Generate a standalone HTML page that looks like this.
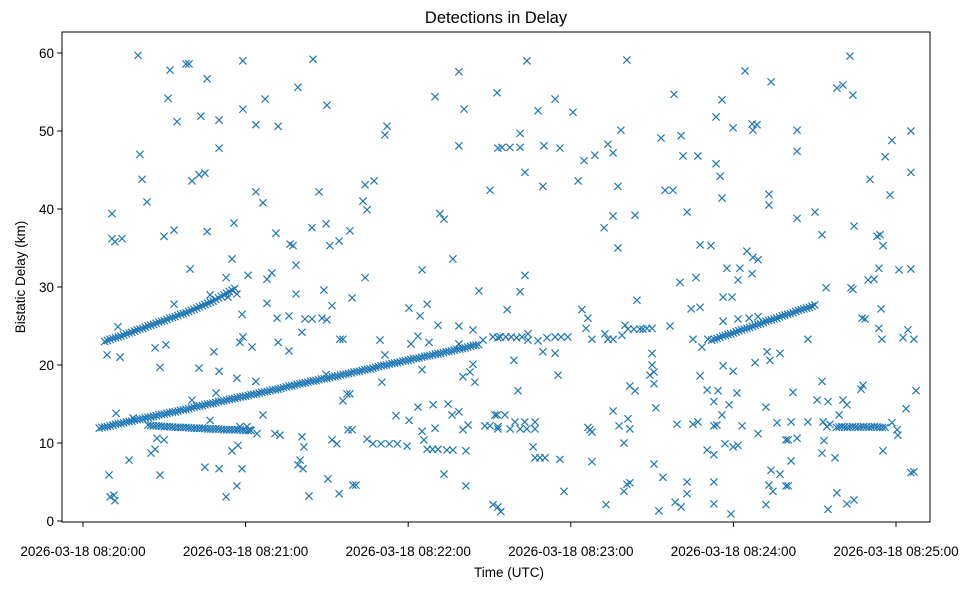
<!DOCTYPE html>
<html><head><meta charset="utf-8"><style>
body{margin:0;background:#fff;font-family:"Liberation Sans",sans-serif}
svg text{font-family:"Liberation Sans",sans-serif;fill:#000}
</style></head><body>
<svg id="chart" width="978" height="590" viewBox="0 0 978 590" xmlns="http://www.w3.org/2000/svg">
<rect x="0" y="0" width="978" height="590" fill="#fff"/>
<text x="496" y="23" font-size="16.5" text-anchor="middle">Detections in Delay</text>
<text x="509" y="577" font-size="13.5" text-anchor="middle">Time (UTC)</text>
<text x="0" y="0" font-size="13.5" text-anchor="middle" transform="translate(25,277) rotate(-90)">Bistatic Delay (km)</text>
<g id="marks"></g>
<g id="axes"></g>
</svg>
<script>
const xTickSeconds = [0, 60, 120, 180, 240, 300];
const xTickLabels = ["2026-03-18 08:20:00","2026-03-18 08:21:00","2026-03-18 08:22:00","2026-03-18 08:23:00","2026-03-18 08:24:00","2026-03-18 08:25:00"];
const yTicks = [0, 10, 20, 30, 40, 50, 60];
const trackA = [[6,11.9],[7,12.0],[8,12.05],[9,12.1],[10,12.2],[11,12.3],[12,12.4],[13,12.45],[14,12.5],[15,12.6],[16,12.7],[17,12.75],[18,12.8],[19,12.9],[20,13.0],[21,13.05],[22,13.1],[23,13.2],[24,13.3],[25,13.35],[26,13.4],[27,13.5],[28,13.6],[29,13.65],[30,13.7],[31,13.8],[32,13.9],[33,13.95],[34,14.0],[35,14.1],[36,14.2],[37,14.25],[38,14.3],[39,14.4],[40,14.5],[41,14.6],[42,14.7],[43,14.75],[44,14.8],[45,14.9],[46,15.0],[47,15.05],[48,15.1],[49,15.2],[50,15.3],[51,15.35],[52,15.4],[53,15.5],[54,15.6],[55,15.65],[56,15.7],[57,15.8],[58,15.9],[59,15.95],[60,16.0],[61,16.1],[62,16.2],[63,16.25],[64,16.3],[65,16.4],[66,16.5],[67,16.55],[68,16.6],[69,16.7],[70,16.8],[71,16.85],[72,16.9],[73,17.0],[74,17.1],[75,17.2],[76,17.3],[77,17.35],[78,17.4],[79,17.5],[80,17.6],[81,17.65],[82,17.7],[83,17.8],[84,17.9],[85,17.95],[86,18.0],[87,18.1],[88,18.2],[89,18.25],[90,18.3],[91,18.4],[92,18.5],[93,18.55],[94,18.6],[95,18.7],[96,18.8],[97,18.85],[98,18.9],[99,19.0],[100,19.1],[101,19.15],[102,19.2],[103,19.3],[104,19.4],[105,19.45],[106,19.5],[107,19.6],[108,19.7],[109,19.8],[110,19.9],[111,19.95],[112,20.0],[113,20.1],[114,20.2],[115,20.25],[116,20.3],[117,20.4],[118,20.5],[119,20.55],[120,20.6],[121,20.7],[122,20.8],[123,20.85],[124,20.9],[125,21.0],[126,21.1],[127,21.15],[128,21.2],[129,21.3],[130,21.4],[131,21.45],[132,21.5],[133,21.6],[134,21.7],[135,21.75],[136,21.8],[137,21.9],[138,22.0],[139,22.05],[140,22.1],[141,22.2],[142,22.3],[143,22.4],[144,22.5],[145,22.55],[146,22.6]];
const trackB = [[8,23.0],[9,23.15],[10,23.3],[11,23.4],[12,23.5],[13,23.6],[14,23.7],[15,23.85],[16,24.0],[17,24.1],[18,24.2],[19,24.35],[20,24.5],[21,24.6],[22,24.7],[23,24.85],[24,25.0],[25,25.1],[26,25.2],[27,25.35],[28,25.5],[29,25.6],[30,25.7],[31,25.85],[32,26.0],[33,26.1],[34,26.2],[35,26.35],[36,26.5],[37,26.6],[38,26.7],[39,26.85],[40,27.0],[41,27.15],[42,27.3],[43,27.45],[44,27.6],[45,27.75],[46,27.9],[47,28.05],[48,28.2],[49,28.4],[50,28.6],[51,28.8],[52,29.0],[53,29.2],[54,29.4],[55,29.6],[56,29.8]];
const trackC = [[24,12.3],[25,12.25],[26,12.2],[27,12.2],[28,12.2],[29,12.15],[30,12.1],[31,12.1],[32,12.1],[33,12.05],[34,12.0],[35,12.0],[36,12.0],[37,12.0],[38,12.0],[39,11.95],[40,11.9],[41,11.9],[42,11.9],[43,11.9],[44,11.9],[45,11.85],[46,11.8],[47,11.8],[48,11.8],[49,11.8],[50,11.8],[51,11.75],[52,11.7],[53,11.7],[54,11.7],[55,11.7],[56,11.7],[57,11.7],[58,11.7],[59,11.65],[60,11.6],[61,11.6],[62,11.6]];
const trackE = [[232,23.2],[233,23.3],[234,23.4],[235,23.55],[236,23.7],[237,23.8],[238,23.9],[239,24.0],[240,24.1],[241,24.25],[242,24.4],[243,24.5],[244,24.6],[245,24.7],[246,24.8],[247,24.95],[248,25.1],[249,25.2],[250,25.3],[251,25.45],[252,25.6],[253,25.7],[254,25.8],[255,25.9],[256,26.0],[257,26.15],[258,26.3],[259,26.4],[260,26.5],[261,26.6],[262,26.7],[263,26.85],[264,27.0],[265,27.1],[266,27.2],[267,27.3],[268,27.4],[269,27.55],[270,27.7]];
const trackD = [[278,12.0],[279,12.05],[280,12.1],[281,12.05],[282,12.0],[283,12.05],[284,12.1],[285,12.05],[286,12.0],[287,12.05],[288,12.1],[289,12.05],[290,12.0],[291,12.05],[292,12.1],[293,12.05],[294,12.0],[295,12.0],[296,12.0]];
const clutter = [
[20.3,59.7],[32.1,57.8],[38.0,58.6],[39.1,58.6],[45.8,56.7],[31.4,54.2],[34.7,51.2],[43.5,51.9],[21.0,47.0],[21.8,43.8],[23.6,40.9],[10.7,39.4],[10.7,36.2],[11.8,35.8],[14.4,36.2],[29.9,36.5],[33.6,37.3],[40.2,43.6],[42.8,44.4],[45.0,44.6],[45.8,37.1],[39.5,32.3],[33.6,27.8],[12.9,24.9],[8.9,21.3],[13.7,21.0],[26.6,22.2],[30.6,22.6],[28.4,19.7],[42.8,19.6],[40.2,15.5],[12.2,13.8],[18.5,13.2],[27.3,10.6],[29.9,10.4],[26.6,9.2],[25.1,8.7],[17.0,7.8],[9.6,5.9],[28.4,5.9],[45.0,6.9],[10.0,3.1],[11.4,3.3],[11.8,2.6],[46.9,12.9],[46.9,29.0],[48.3,21.7],
[59.0,59.0],[84.9,59.2],[79.3,55.6],[67.2,54.1],[59.0,52.8],[90.0,53.3],[50.2,51.4],[63.8,50.8],[72.0,50.6],[50.2,47.8],[63.8,42.2],[66.4,40.8],[87.1,42.2],[55.7,38.2],[71.2,36.9],[84.5,37.6],[89.7,38.1],[98.5,37.2],[76.4,35.5],[77.5,35.3],[91.1,35.3],[94.5,35.9],[55.0,33.6],[78.6,32.8],[52.8,31.2],[60.9,31.5],[67.9,31.0],[69.7,31.8],[53.5,28.7],[56.8,29.1],[67.9,27.9],[78.6,29.1],[88.9,29.6],[91.9,27.6],[99.3,28.6],[58.7,26.5],[71.6,26.0],[76.0,26.3],[81.9,25.9],[84.5,25.9],[88.2,26.0],[90.0,25.8],[80.8,24.2],[94.8,23.3],[95.9,23.3],[57.9,22.9],[59.0,23.6],[62.4,22.3],[72.0,22.9],[76.0,21.8],[50.2,19.2],[56.8,18.3],[63.8,17.9],[89.7,18.8],[49.1,16.4],[97.4,16.3],[95.9,15.4],[66.4,13.6],[57.9,12.1],[60.5,12.1],[61.6,11.7],[64.2,11.2],[70.8,11.2],[72.7,11.0],[80.8,10.8],[81.5,9.5],[91.9,10.4],[93.7,9.9],[97.8,11.7],[55.0,9.0],[57.2,9.7],[50.2,6.7],[58.7,6.7],[79.3,7.2],[80.1,7.8],[81.2,6.7],[56.8,4.5],[52.8,3.1],[83.4,3.2],[90.4,5.4],[94.5,3.5],[99.6,4.6],
[138.7,57.6],[152.8,54.9],[129.9,54.4],[140.6,52.8],[112.2,50.6],[111.4,49.5],[138.7,48.1],[153.1,47.8],[104.1,43.1],[107.4,43.6],[103.3,41.0],[104.8,39.9],[150.2,42.4],[131.7,39.4],[133.2,38.7],[136.5,33.6],[125.1,32.2],[104.1,31.2],[146.1,29.5],[120.3,27.3],[127.0,27.8],[124.4,26.3],[131.0,25.1],[138.7,25.0],[143.9,24.5],[109.6,23.2],[123.6,23.7],[121.0,22.7],[127.7,22.9],[147.6,23.2],[151.3,23.6],[153.1,23.5],[138.7,22.7],[111.4,21.3],[143.9,20.1],[142.8,19.1],[140.2,18.5],[144.6,17.8],[125.1,19.4],[110.3,17.8],[98.5,16.3],[115.5,13.5],[120.3,12.9],[123.6,14.6],[129.2,14.9],[134.7,15.0],[136.2,13.6],[138.7,14.0],[125.1,11.5],[129.9,11.9],[140.2,11.7],[142.1,12.3],[148.3,12.2],[150.2,12.2],[152.8,13.6],[153.1,12.1],[104.8,10.5],[107,9.9],[110,9.9],[113,9.9],[116,9.9],[119.6,9.6],[125.8,10.4],[127,9.2],[129,9.2],[131,9.2],[134.3,9.1],[136.5,9.1],[141.3,9.0],[99.3,11.7],[100.7,4.6],[133.2,6.0],[141.3,4.5],[151.3,2.1],
[163.8,59.0],[200.7,59.1],[174.2,54.1],[167.9,52.6],[180.8,52.4],[161.3,49.7],[198.5,50.1],[154.6,47.9],[157.5,47.9],[161.3,47.9],[170.1,48.1],[176.0,47.8],[193.7,48.3],[195.6,47.2],[188.9,46.9],[184.9,46.2],[163.1,44.7],[169.7,42.9],[182.7,43.6],[197.4,42.9],[195.6,39.1],[203.7,39.2],[192.3,37.6],[197.4,35.0],[163.1,31.5],[161.3,29.4],[156.5,27.1],[204.4,28.3],[184.1,27.1],[186.3,26.0],[185.6,24.7],[154,23.6],[156,23.6],[158,23.6],[160,23.5],[162,23.6],[164.2,24.0],[164.2,23.2],[167.9,23.1],[171.2,23.5],[174.2,23.6],[176.4,23.6],[178.9,23.6],[187.8,23.3],[192.6,24.0],[193.7,23.3],[195.6,23.3],[198.9,23.8],[200,25.1],[201.1,24.6],[203.3,24.6],[205.5,24.6],[206.6,24.6],[169.7,21.7],[174.2,21.5],[159.0,20.6],[175.3,18.7],[160.5,16.7],[201.8,17.3],[203.7,16.7],[152,13.6],[155.7,13.6],[153.1,11.8],[157.6,11.8],[159.4,12.7],[163,12.7],[166.8,12.7],[161.3,11.8],[163.8,11.8],[166.8,11.8],[166.1,9.5],[166.8,8.1],[168.6,8.1],[170.5,8.1],[176.0,7.9],[187.1,11.7],[186.3,12.0],[187.8,11.4],[187.8,7.6],[195.6,14.1],[197.8,12.2],[201.1,13.1],[201.8,11.8],[199.6,10.0],[200.7,4.7],[199.6,3.8],[201.8,4.9],[177.5,3.8],[193.0,2.1],[153.1,1.8],[154.2,1.2],
[244.3,57.7],[253.9,56.3],[218.1,54.7],[235.8,54.0],[233.6,51.8],[239.9,50.4],[246.9,50.9],[248.7,50.8],[247.2,50.1],[213.3,49.1],[220.7,49.4],[221.4,46.8],[226.9,46.8],[233.6,45.8],[235.1,44.2],[214.8,42.4],[217.7,42.4],[235.8,41.4],[253.1,41.9],[253.1,40.5],[222.9,39.6],[227.7,35.4],[231.7,35.3],[245.0,34.6],[247.2,33.8],[249.1,33.5],[237.6,32.4],[242.4,32.4],[241.7,30.9],[246.9,31.7],[220.3,30.6],[226.2,31.2],[236.2,28.7],[239.5,28.7],[224.4,27.2],[227.7,27.4],[236.2,25.6],[241.7,25.9],[245.8,26.0],[249.1,26.2],[208.1,24.7],[210,24.7],[216.6,25.0],[225.1,23.3],[228.4,22.3],[230.6,23.3],[210,21.5],[210,20.0],[209.2,18.7],[210.7,19.1],[210.7,17.6],[236.2,19.9],[239.9,19.2],[227.7,18.6],[248,20.3],[252.4,21.7],[253.5,20.6],[257.2,21.5],[230.3,16.8],[234.3,16.7],[241.3,16.4],[232.8,15.3],[238.4,14.9],[235.8,13.6],[211.4,14.5],[252.0,14.6],[219.2,12.4],[225.1,12.4],[226.9,12.7],[232.8,12.2],[233.9,12.3],[243.2,12.2],[249.1,11.2],[256.1,12.6],[259.4,10.4],[230.3,9.1],[232.8,8.5],[236.9,9.9],[239.9,9.5],[241.7,9.7],[210.7,7.3],[214.0,5.6],[222.9,5.0],[222.9,3.5],[232.8,5.0],[253.9,6.5],[257.2,6.0],[253.1,4.6],[254.6,3.8],[259.4,4.5],[218.5,2.4],[220.7,1.8],[212.5,1.3],[232.8,2.2],[239.1,0.9],[252.0,2.1],
[283.0,59.6],[278.2,55.5],[280.4,55.9],[284.1,54.6],[263.5,50.1],[263.5,47.4],[305.5,50.0],[298.5,48.8],[296.0,46.7],[305.5,44.7],[290.4,43.8],[297.8,41.8],[263.5,38.8],[270.1,39.6],[272.7,36.7],[284.5,37.8],[293.0,36.5],[294.1,36.7],[295.2,35.3],[293.7,32.4],[301.1,32.2],[305.5,32.3],[289.7,30.9],[291.9,31.0],[274.2,29.9],[283.4,29.9],[284.1,29.7],[267.5,23.3],[287.5,26.0],[288.6,25.9],[294.5,27.2],[293.7,24.7],[294.8,23.3],[302.6,23.5],[304.4,24.5],[306.6,23.3],[272.7,17.9],[262.0,16.5],[287.8,17.4],[287.1,16.9],[307.4,16.7],[270.9,15.5],[274.9,15.3],[280.4,15.5],[281.9,14.9],[279.0,13.6],[303.7,14.4],[261.3,12.7],[267.5,12.7],[273.1,12.7],[275.6,12.4],[274.5,12.1],[298.5,12.6],[300.4,11.7],[300.7,11.0],[260.2,10.4],[263.5,10.6],[273.4,10.3],[272.7,8.7],[277.5,8.1],[295.2,9.0],[261.3,7.7],[305.5,6.2],[306.6,6.3],[260.2,4.5],[278.2,3.6],[281.9,2.2],[284.5,2.7],[274.9,1.5]
];

const PL = 62, PR = 930, PT = 32, PB = 522;
const NS = "http://www.w3.org/2000/svg";
function xScale(t){ return 83 + t * 2.71; }
function yScale(v){ return 521 - v * 7.8; }
function mk(tag, attrs){ const e = document.createElementNS(NS, tag); for (const k in attrs) e.setAttribute(k, attrs[k]); return e; }

const marks = document.getElementById('marks');
const groups = [["track-a", trackA],["track-b", trackB],["track-c", trackC],["track-e", trackE],["track-d", trackD],["clutter", clutter]];
groups.forEach(([nm, arr]) => {
  arr.forEach(p => {
    const cx = xScale(p[0]), cy = yScale(p[1]), s = 3.6;
    const path = mk('path', {d:`M${cx-s},${cy-s}L${cx+s},${cy+s}M${cx-s},${cy+s}L${cx+s},${cy-s}`, stroke:'#1f77b4', 'stroke-width':'1.2', fill:'none'});
    
    
    marks.appendChild(path);
  });
});

const axes = document.getElementById('axes');
const frame = mk('rect', {x:PL, y:PT, width:PR-PL, height:PB-PT, fill:'none', stroke:'#000', 'stroke-width':'1'});


axes.appendChild(frame);

yTicks.forEach(v => {
  const y = yScale(v);
  const tk = mk('line', {x1:PL-4.9, x2:PL, y1:y, y2:y, stroke:'#000', 'stroke-width':'1'});
  
  
  axes.appendChild(tk);
  const lb = mk('text', {x:PL-8, y:y+4.8, 'font-size':'13.5', 'text-anchor':'end'});
  lb.textContent = String(v);
  
  
  axes.appendChild(lb);
});

xTickSeconds.forEach((t, i) => {
  const x = xScale(t);
  const tk = mk('line', {x1:x, x2:x, y1:PB, y2:PB+4.9, stroke:'#000', 'stroke-width':'1'});
  
  
  axes.appendChild(tk);
  const lb = mk('text', {x:x, y:556, 'font-size':'13.5', 'text-anchor':'middle'});
  lb.textContent = xTickLabels[i];
  
  
  axes.appendChild(lb);
});
</script>
</body></html>
